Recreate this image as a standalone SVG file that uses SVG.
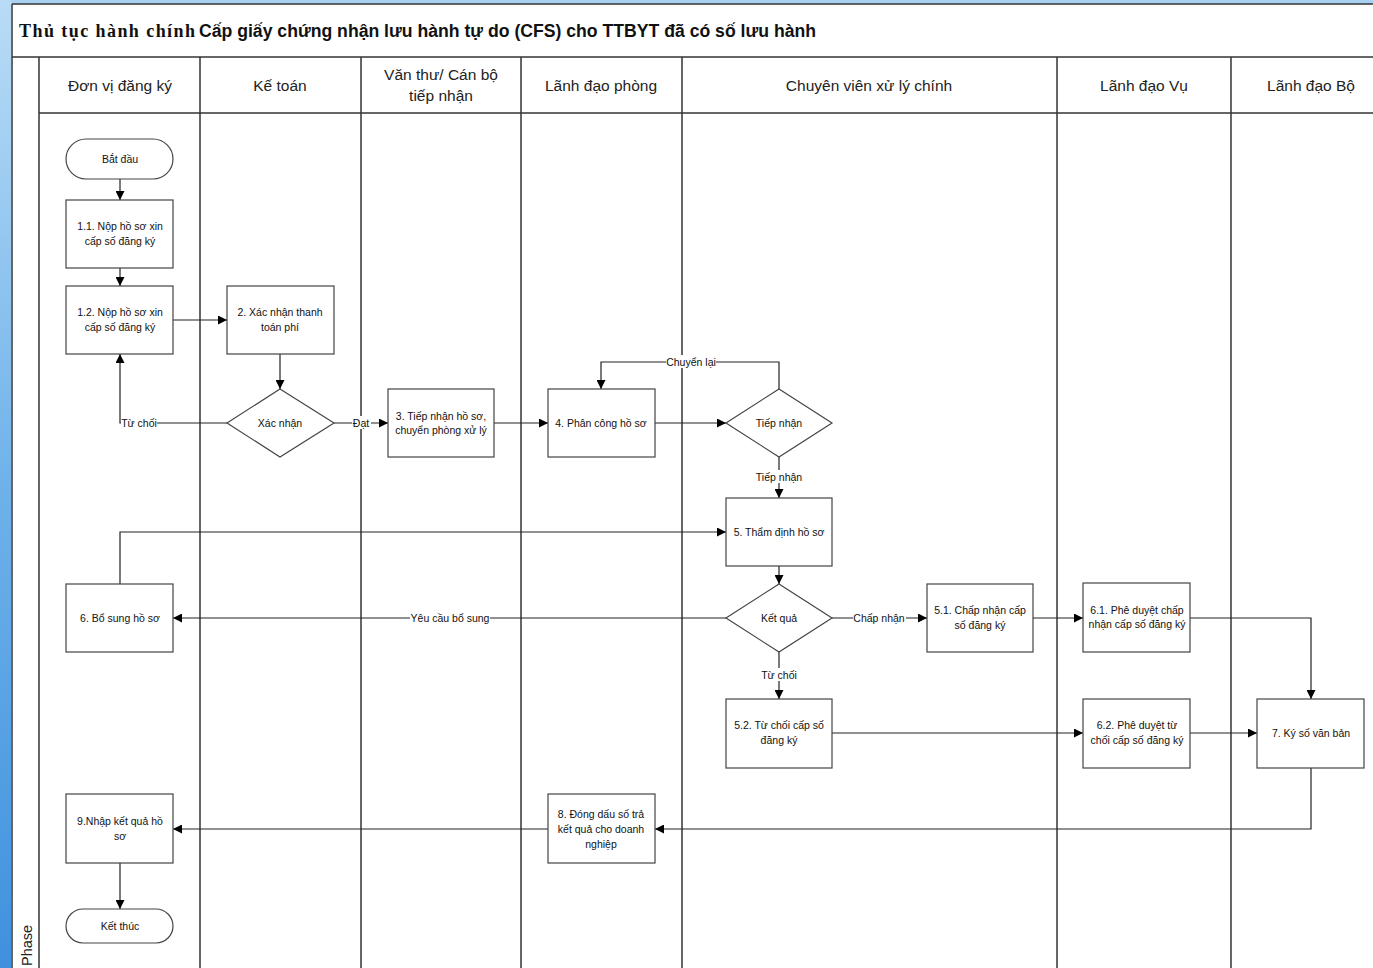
<svg xmlns="http://www.w3.org/2000/svg" width="1373" height="968" viewBox="0 0 1373 968">
<defs>
<linearGradient id="bl" x1="0" y1="0" x2="0" y2="1">
<stop offset="0" stop-color="#b9dcf6"/>
<stop offset="0.5" stop-color="#6fb2ea"/>
<stop offset="1" stop-color="#3f91de"/>
</linearGradient>
<marker id="ah" viewBox="0 0 10 10" refX="10" refY="5" markerWidth="9" markerHeight="9" markerUnits="userSpaceOnUse" orient="auto">
<path d="M0,0 L10,5 L0,10 z" fill="#000"/>
</marker>
<style>
.frame{fill:none;stroke:#333;stroke-width:1.5}
.lane{stroke:#333;stroke-width:1.5}
.box{fill:#fff;stroke:#444;stroke-width:1.2}
.t{font-family:"Liberation Sans",Arial,sans-serif;font-size:10.5px;fill:#111;text-anchor:middle}
.h{font-family:"Liberation Sans",Arial,sans-serif;font-size:15.5px;fill:#222;text-anchor:middle}
.c{fill:none;stroke:#222;stroke-width:1.2}
.ca{fill:none;stroke:#222;stroke-width:1.2;marker-end:url(#ah)}
.lb{fill:#fff}
</style>
</defs>
<rect x="0" y="0" width="1373" height="968" fill="#fff"/>
<rect x="0" y="0" width="1373" height="4" fill="#a9d2f2"/>
<rect x="0" y="0" width="11" height="968" fill="url(#bl)"/>

<g id="frame">
<line class="frame" x1="12" y1="4" x2="1373" y2="4"/>
<line class="frame" x1="12" y1="4" x2="12" y2="968"/>
<line class="frame" x1="12" y1="57" x2="1373" y2="57"/>
<line class="lane" x1="39" y1="113" x2="1373" y2="113"/>
<line class="lane" x1="39" y1="57" x2="39" y2="968"/>
<line class="lane" x1="200" y1="57" x2="200" y2="968"/>
<line class="lane" x1="361" y1="57" x2="361" y2="968"/>
<line class="lane" x1="521" y1="57" x2="521" y2="968"/>
<line class="lane" x1="682" y1="57" x2="682" y2="968"/>
<line class="lane" x1="1057" y1="57" x2="1057" y2="968"/>
<line class="lane" x1="1231" y1="57" x2="1231" y2="968"/>
<text x="19" y="37" font-size="18" font-weight="bold" fill="#111"><tspan font-family="'Liberation Serif','Times New Roman',serif" textLength="176">Thủ tục hành chính</tspan><tspan font-family="'Liberation Sans',Arial,sans-serif" x="199" textLength="617" lengthAdjust="spacingAndGlyphs">Cấp giấy chứng nhận lưu hành tự do (CFS) cho TTBYT đã có số lưu hành</tspan></text>
<text class="h" x="120" y="91">Đơn vị đăng ký</text>
<text class="h" x="280" y="91">Kế toán</text>
<text class="h" x="441" y="80">Văn thư/ Cán bộ</text>
<text class="h" x="441" y="101">tiếp nhận</text>
<text class="h" x="601" y="91">Lãnh đạo phòng</text>
<text class="h" x="869" y="91">Chuyên viên xử lý chính</text>
<text class="h" x="1144" y="91">Lãnh đạo Vụ</text>
<text class="h" x="1311" y="91">Lãnh đạo Bộ</text>
<text x="32" y="966" transform="rotate(-90 32 966)" font-family="'Liberation Sans',Arial,sans-serif" font-size="14.5" fill="#222">Phase</text>
</g>

<g id="connectors">
<path class="ca" d="M120,179 V200"/>
<path class="ca" d="M120,268 V286"/>
<path class="ca" d="M173,320 H227"/>
<path class="ca" d="M280,354 V389"/>
<path class="ca" d="M227,423 H120 V354"/>
<path class="ca" d="M334,423 H388"/>
<path class="ca" d="M494,423 H548"/>
<path class="ca" d="M655,423 H726"/>
<path class="ca" d="M779,389 V362 H601 V389"/>
<path class="ca" d="M779,457 V498"/>
<path class="ca" d="M120,584 V532 H726"/>
<path class="ca" d="M779,566 V584"/>
<path class="ca" d="M726,618 H173"/>
<path class="ca" d="M832,618 H927"/>
<path class="ca" d="M779,652 V699"/>
<path class="ca" d="M1033,618 H1083"/>
<path class="ca" d="M1190,618 H1311 V699"/>
<path class="ca" d="M832,733 H1083"/>
<path class="ca" d="M1190,733 H1257"/>
<path class="ca" d="M1311,768 V829 H655"/>
<path class="ca" d="M548,829 H173"/>
<path class="ca" d="M120,863 V909"/>
<rect class="lb" x="121" y="416" width="36" height="13"/>
<text class="t" x="139" y="427">Từ chối</text>
<rect class="lb" x="352" y="416" width="19" height="13"/>
<text class="t" x="361" y="427">Đạt</text>
<rect class="lb" x="666" y="355" width="50" height="13"/>
<text class="t" x="691" y="366">Chuyển lại</text>
<rect class="lb" x="754" y="470" width="50" height="13"/>
<text class="t" x="779" y="481">Tiếp nhận</text>
<rect class="lb" x="410" y="611" width="80" height="13"/>
<text class="t" x="450" y="622">Yêu cầu bổ sung</text>
<rect class="lb" x="853" y="611" width="53" height="13"/>
<text class="t" x="879" y="622">Chấp nhận</text>
<rect class="lb" x="760" y="668" width="38" height="13"/>
<text class="t" x="779" y="679">Từ chối</text>
</g>

<g id="n-start"><rect class="box" x="66" y="139" width="107" height="40" rx="20"/><text class="t" x="120" y="163">Bắt đầu</text></g>
<g id="n-11"><rect class="box" x="66" y="200" width="107" height="68"/><text class="t" x="120" y="230">1.1. Nộp hồ sơ xin</text><text class="t" x="120" y="245">cấp số đăng ký</text></g>
<g id="n-12"><rect class="box" x="66" y="286" width="107" height="68"/><text class="t" x="120" y="316">1.2. Nộp hồ sơ xin</text><text class="t" x="120" y="331">cấp số đăng ký</text></g>
<g id="n-2"><rect class="box" x="227" y="286" width="107" height="68"/><text class="t" x="280" y="316">2. Xác nhận thanh</text><text class="t" x="280" y="331">toán phí</text></g>
<g id="n-xacnhan"><polygon class="box" points="280,389 334,423 280,457 227,423"/><text class="t" x="280" y="427">Xác nhận</text></g>
<g id="n-3"><rect class="box" x="388" y="389" width="106" height="68"/><text class="t" x="441" y="420">3. Tiếp nhận hồ sơ,</text><text class="t" x="441" y="434">chuyển phòng xử lý</text></g>
<g id="n-4"><rect class="box" x="548" y="389" width="107" height="68"/><text class="t" x="601" y="427">4. Phân công hồ sơ</text></g>
<g id="n-tiepnhan"><polygon class="box" points="779,389 832,423 779,457 726,423"/><text class="t" x="779" y="427">Tiếp nhận</text></g>
<g id="n-5"><rect class="box" x="726" y="498" width="106" height="68"/><text class="t" x="779" y="536">5. Thẩm định hồ sơ</text></g>
<g id="n-ketqua"><polygon class="box" points="779,584 832,618 779,652 726,618"/><text class="t" x="779" y="622">Kết quả</text></g>
<g id="n-51"><rect class="box" x="927" y="584" width="106" height="68"/><text class="t" x="980" y="614">5.1. Chấp nhận cấp</text><text class="t" x="980" y="629">số đăng ký</text></g>
<g id="n-61"><rect class="box" x="1083" y="583" width="107" height="69"/><text class="t" x="1137" y="614">6.1. Phê duyệt chấp</text><text class="t" x="1137" y="628">nhận cấp số đăng ký</text></g>
<g id="n-52"><rect class="box" x="726" y="699" width="106" height="69"/><text class="t" x="779" y="729">5.2. Từ chối cấp số</text><text class="t" x="779" y="744">đăng ký</text></g>
<g id="n-62"><rect class="box" x="1083" y="699" width="107" height="69"/><text class="t" x="1137" y="729">6.2. Phê duyệt từ</text><text class="t" x="1137" y="744">chối cấp số đăng ký</text></g>
<g id="n-7"><rect class="box" x="1257" y="699" width="107" height="69"/><text class="t" x="1311" y="737">7. Ký số văn bản</text></g>
<g id="n-6"><rect class="box" x="66" y="584" width="107" height="68"/><text class="t" x="120" y="622">6. Bổ sung hồ sơ</text></g>
<g id="n-8"><rect class="box" x="548" y="794" width="107" height="69"/><text class="t" x="601" y="818">8. Đóng dấu số trả</text><text class="t" x="601" y="833">kết quả cho doanh</text><text class="t" x="601" y="848">nghiệp</text></g>
<g id="n-9"><rect class="box" x="66" y="794" width="107" height="69"/><text class="t" x="120" y="825">9.Nhập kết quả hồ</text><text class="t" x="120" y="840">sơ</text></g>
<g id="n-end"><rect class="box" x="66" y="909" width="107" height="34" rx="17"/><text class="t" x="120" y="930">Kết thúc</text></g>
</svg>
